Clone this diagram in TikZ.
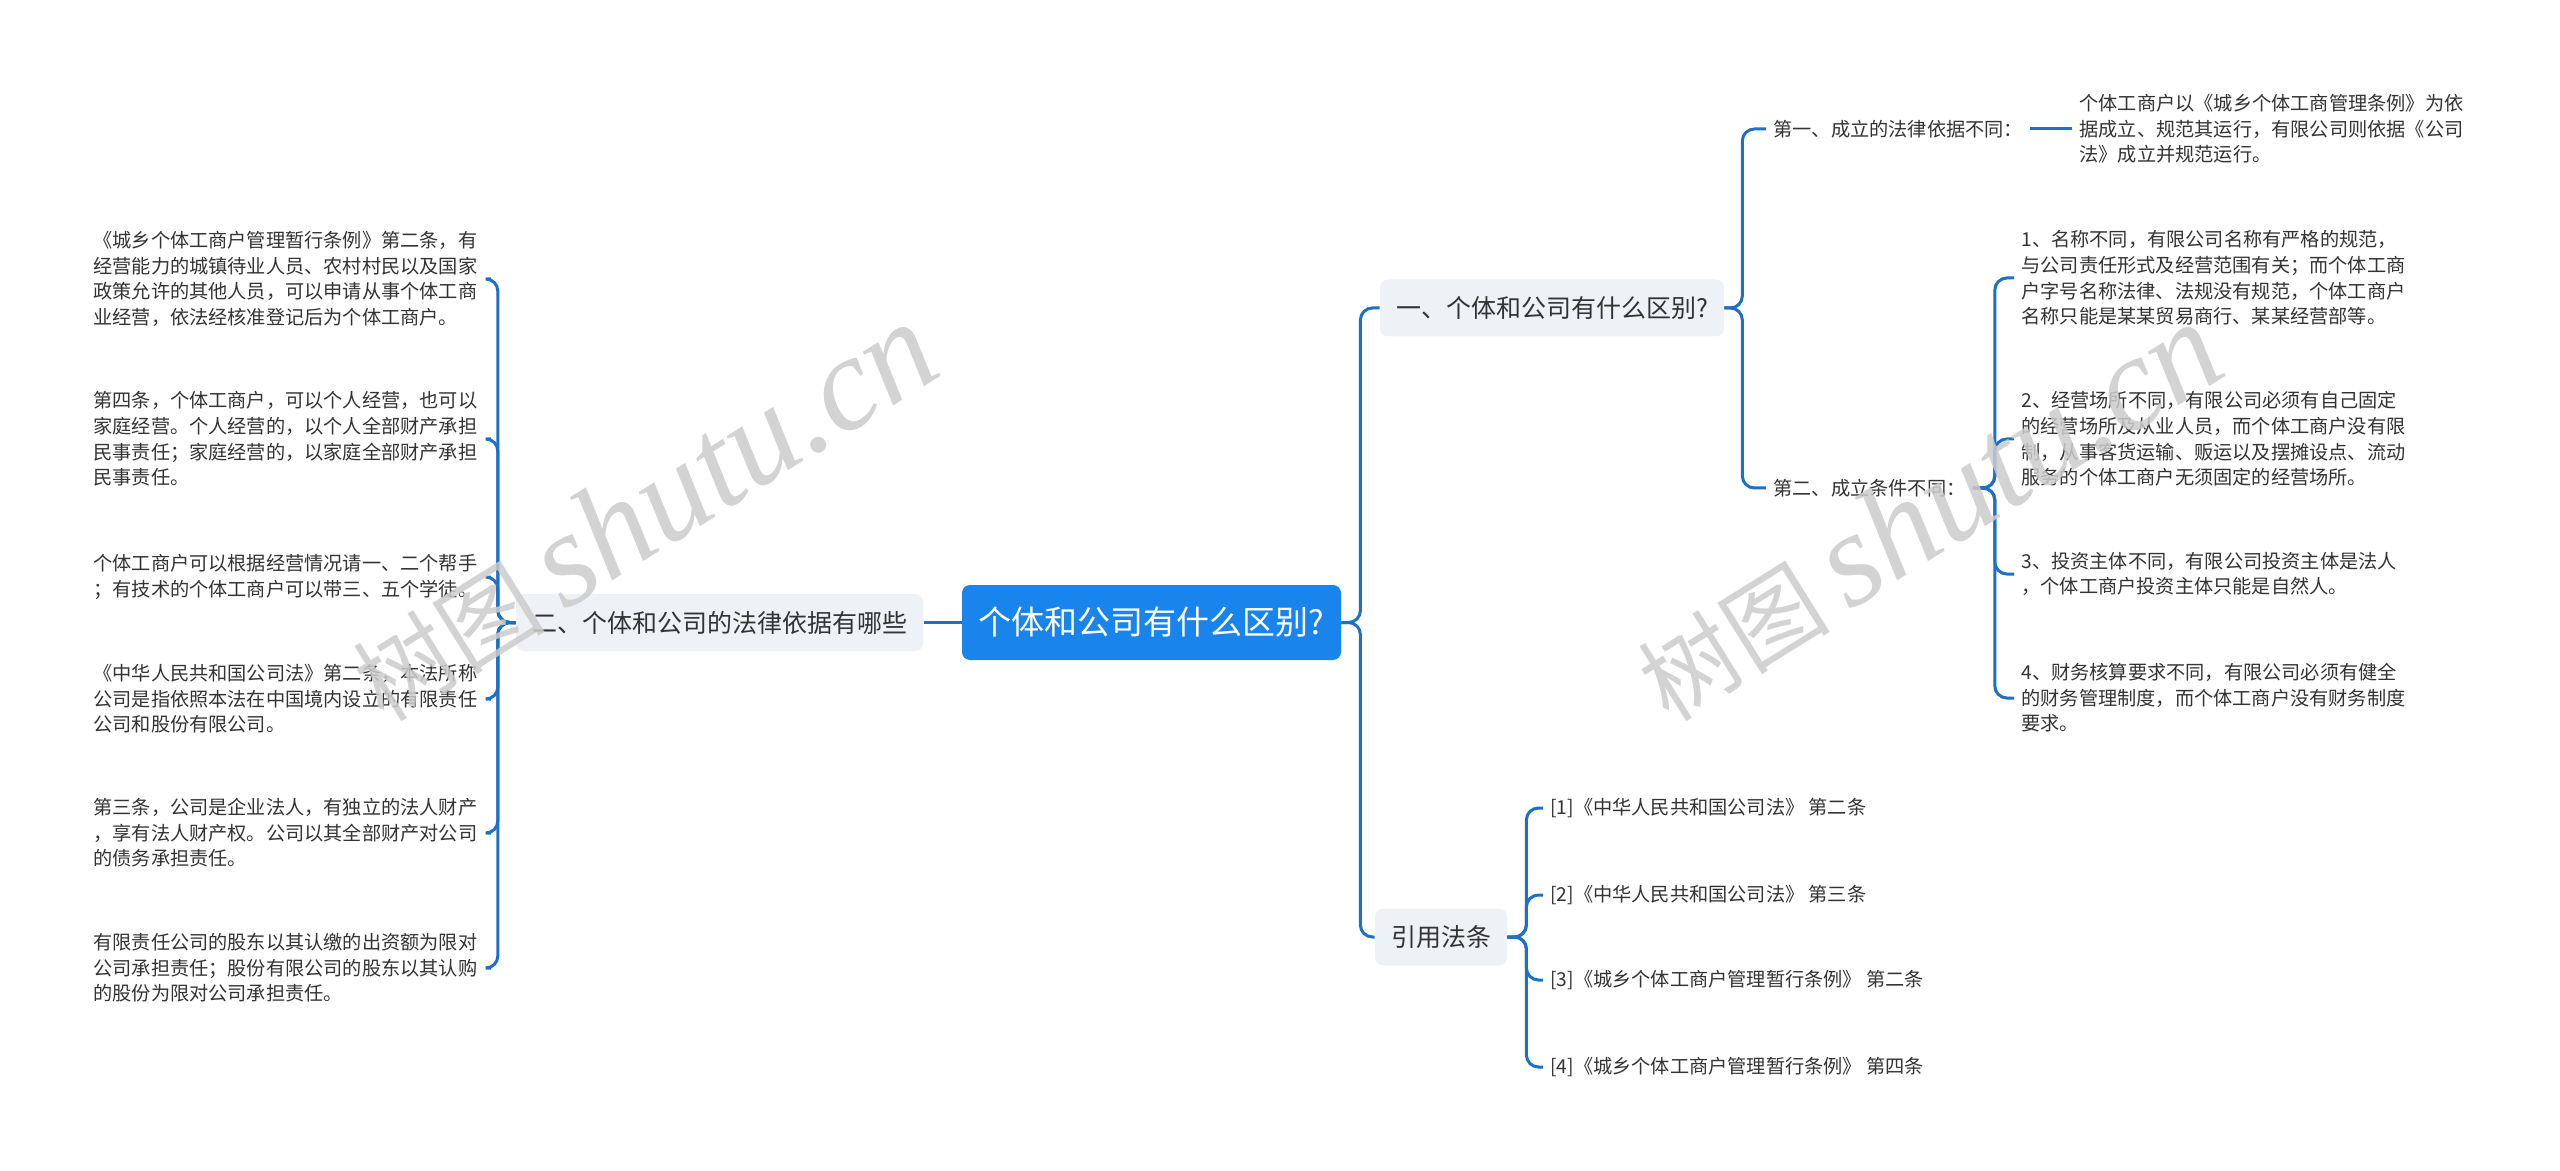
\documentclass[tikz,border=0pt]{standalone}
\usepackage{fontspec}
\setmainfont{Noto Sans CJK SC}
\newfontfamily\wmfont{Liberation Serif}
\usetikzlibrary{positioning}

\definecolor{rootblue}{RGB}{24,132,236}
\definecolor{linkblue}{RGB}{30,112,198}
\definecolor{branchgray}{RGB}{238,241,245}
\definecolor{textdark}{RGB}{51,51,51}

\begin{document}
\begin{tikzpicture}[
        x=0.5pt, y=-0.5pt,
        every node/.style={text=textdark},
        rootbox/.style={
            rectangle,
            fill=rootblue,
            rounded corners=4pt,
            minimum width=189.5pt,
            minimum height=37.5pt,
            text=white,
            font=\fontsize{16.5}{18}\selectfont
        },
        branchbox/.style={
            rectangle,
            fill=branchgray,
            rounded corners=4pt,
            inner xsep=8pt,
            minimum height=28.5pt,
            font=\fontsize{12.5}{14}\selectfont
        },
        leaf/.style={
            anchor=west,
            align=left,
            inner xsep=3.5pt,
            inner ysep=0pt,
            font=\fontsize{9.6}{12.8}\selectfont
        },
        note/.style={
            leaf,
            text width=195pt
        },
        link/.style={
            draw=linkblue,
            line width=1.5pt,
            rounded corners=6pt
        },
        watermark/.style={
            text=black!20,
            opacity=0.85,
            rotate=32,
            inner sep=0pt
        }
    ]

    \fill[white] (0,0) rectangle (2560,1171);
    \useasboundingbox (0,0) rectangle (2560,1171);

    % 中心主题
    \node[rootbox] (root) at (1151.5,622.5) {个体和公司有什么区别?};
    \node[branchbox] (legal) [left=19pt of root] {二、个体和公司的法律依据有哪些};
    \node[branchbox] (diff) at (1552,308) {一、个体和公司有什么区别?};
    \node[branchbox] (cite) at (1441,937) {引用法条};

    % 左侧：法律依据
    \node[note] (l1) at (86,279) {《城乡个体工商户管理暂行条例》第二条，有\\经营能力的城镇待业人员、农村村民以及国家\\政策允许的其他人员，可以申请从事个体工商\\业经营，依法经核准登记后为个体工商户。};
    \node[note] (l2) at (86,439) {第四条，个体工商户，可以个人经营，也可以\\家庭经营。个人经营的，以个人全部财产承担\\民事责任；家庭经营的，以家庭全部财产承担\\民事责任。};
    \node[note] (l3) at (86,577) {个体工商户可以根据经营情况请一、二个帮手\\；有技术的个体工商户可以带三、五个学徒。};
    \node[note] (l4) at (86,699) {《中华人民共和国公司法》第二条，本法所称\\公司是指依照本法在中国境内设立的有限责任\\公司和股份有限公司。};
    \node[note] (l5) at (86,833) {第三条，公司是企业法人，有独立的法人财产\\，享有法人财产权。公司以其全部财产对公司\\的债务承担责任。};
    \node[note] (l6) at (86,968) {有限责任公司的股东以其认缴的出资额为限对\\公司承担责任；股份有限公司的股东以其认购\\的股份为限对公司承担责任。};

    % 右侧：区别
    \node[leaf] (first) at (1766,129) {第一、成立的法律依据不同：};
    \node[note] (firstnote) at (2072,129) {个体工商户以《城乡个体工商管理条例》为依\\据成立、规范其运行，有限公司则依据《公司\\法》成立并规范运行。};
    \node[leaf] (second) at (1766,488) {第二、成立条件不同：};
    \node[note] (r1) at (2014,278) {1、名称不同，有限公司名称有严格的规范，\\与公司责任形式及经营范围有关；而个体工商\\户字号名称法律、法规没有规范，个体工商户\\名称只能是某某贸易商行、某某经营部等。};
    \node[note] (r2) at (2014,439) {2、经营场所不同，有限公司必须有自己固定\\的经营场所及从业人员，而个体工商户没有限\\制，从事客货运输、贩运以及摆摊设点、流动\\服务的个体工商户无须固定的经营场所。};
    \node[note] (r3) at (2014,574) {3、投资主体不同，有限公司投资主体是法人\\，个体工商户投资主体只能是自然人。};
    \node[note] (r4) at (2014,698) {4、财务核算要求不同，有限公司必须有健全\\的财务管理制度，而个体工商户没有财务制度\\要求。};

    % 引用法条
    \node[leaf] (ref1) at (1543,808) {[1]《中华人民共和国公司法》 第二条};
    \node[leaf] (ref2) at (1543,895) {[2]《中华人民共和国公司法》 第三条};
    \node[leaf] (ref3) at (1543,980) {[3]《城乡个体工商户管理暂行条例》 第二条};
    \node[leaf] (ref4) at (1543,1067) {[4]《城乡个体工商户管理暂行条例》 第四条};

    % 连线
    \draw[link] (root.west) -- (legal.east);
    \foreach \n in {l1,l2,l3,l4,l5,l6}
        \draw[link] (legal.west) -- ++(-18,0) |- (\n.east);
    \foreach \n in {diff,cite}
        \draw[link] (root.east) -- ++(19,0) |- (\n.west);
    \foreach \n in {first,second}
        \draw[link] (diff.east) -- ++(18,0) |- (\n.west);
    \draw[link] (first.east) -- (firstnote.west);
    \foreach \n in {r1,r2,r3,r4}
        \draw[link] (second.east) -- ++(22,0) |- (\n.west);
    \foreach \n in {ref1,ref2,ref3,ref4}
        \draw[link] (cite.east) -- ++(19,0) |- (\n.west);

    % 水印
    \node[watermark] (wmleft) at (643,512) {\fontsize{48}{48}\selectfont 树图\hspace{10pt}{\wmfont\itshape\fontsize{67}{67}\selectfont shutu.cn}};
    \node[watermark] (wmright) at (1928,512) {\fontsize{48}{48}\selectfont 树图\hspace{10pt}{\wmfont\itshape\fontsize{67}{67}\selectfont shutu.cn}};

\end{tikzpicture}
\end{document}
